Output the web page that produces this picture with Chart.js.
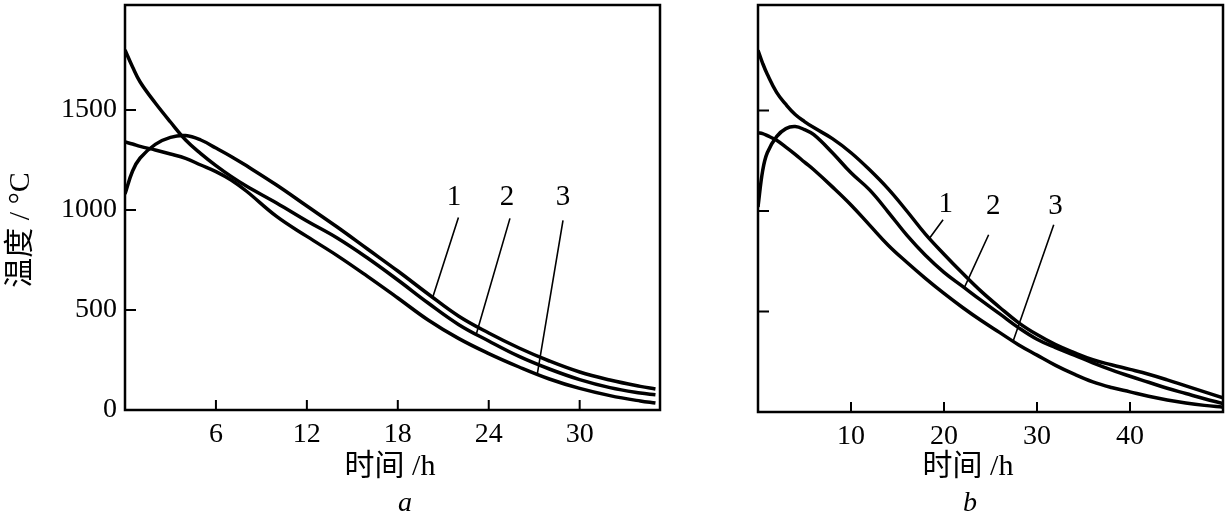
<!DOCTYPE html>
<html>
<head>
<meta charset="utf-8">
<script src="https://cdn.jsdelivr.net/npm/chart.js@4/dist/chart.umd.min.js"></script>
<style>
  body { margin: 0; background: #fff; }
  .box { position: absolute; top: 0; height: 518px; }
</style>
</head>
<body>
<div class="box" style="left:0;width:690px"><canvas id="chartA"></canvas></div>
<div class="box" style="left:690px;width:537px"><canvas id="chartB"></canvas></div>
<script>
// Temperature vs time, two panels (a, b), three curves each

// panel a
const aTime   = [0, 0.5, 1, 2, 3, 4, 5, 6, 7, 8, 10, 12, 14, 16, 18, 20, 22, 24, 26, 28, 30, 32, 34, 35];
const aCurve1 = [1080, 1195, 1260, 1328, 1363, 1372, 1350, 1310, 1268, 1222, 1125, 1020, 915, 805, 695, 580, 470, 385, 310, 245, 190, 150, 118, 105];
const aCurve2 = [1800, 1715, 1640, 1535, 1440, 1350, 1282, 1222, 1168, 1120, 1035, 945, 860, 760, 650, 535, 428, 345, 268, 205, 152, 112, 85, 76];
const aCurve3 = [1340, 1330, 1318, 1300, 1280, 1258, 1225, 1192, 1150, 1095, 968, 868, 772, 668, 560, 450, 358, 282, 215, 155, 108, 72, 45, 35];
const aXTicks = [6, 12, 18, 24, 30];

// panel b
const bTime   = [0, 0.5, 1, 2, 3, 4, 5, 6, 8, 10, 12, 14, 16, 18, 20, 22, 24, 26, 28, 30, 32, 34, 36, 38, 40, 42, 44, 46, 48, 50];
const bCurve1 = [1800, 1735, 1680, 1590, 1530, 1480, 1445, 1415, 1360, 1290, 1205, 1110, 1000, 885, 785, 690, 600, 520, 445, 385, 335, 295, 260, 235, 212, 188, 160, 130, 100, 70];
const bCurve2 = [1020, 1200, 1290, 1370, 1410, 1420, 1405, 1380, 1290, 1190, 1105, 995, 880, 780, 695, 625, 555, 488, 420, 362, 320, 283, 245, 210, 178, 148, 118, 92, 66, 42];
const bCurve3 = [1390, 1385, 1375, 1352, 1318, 1282, 1243, 1205, 1120, 1030, 930, 830, 745, 665, 590, 520, 455, 395, 335, 283, 232, 188, 150, 122, 100, 78, 60, 45, 33, 24];
const bXTicks = [10, 20, 30, 40];

const yTicks = [0, 500, 1000, 1500];

// curve numbers with leader lines, in data units
const aMarks = [
  { text: "1", at: [21.7, 1064], from: [22.0, 963], to: [20.3, 562] },
  { text: "2", at: [25.2, 1064], from: [25.4, 958], to: [23.2, 385] },
  { text: "3", at: [28.9, 1064], from: [28.9, 948], to: [27.2, 178] }
];
const bMarks = [
  { text: "1", at: [20.2, 1031], from: [19.9, 957], to: [18.4, 862] },
  { text: "2", at: [25.3, 1021], from: [24.8, 882], to: [22.2, 620] },
  { text: "3", at: [32.0, 1021], from: [31.8, 932], to: [27.4, 348] }
];

const serif = "'Liberation Serif', 'Noto Sans CJK SC', serif";

function toPoints(xs, ys) {
  return xs.map((x, i) => ({ x: x, y: ys[i] }));
}

// frame, inward ticks, titles and curve numbers
const notes = {
  id: "notes",
  afterDraw(chart, args, opts) {
    const ctx = chart.ctx, a = chart.chartArea, x = chart.scales.x, y = chart.scales.y;
    ctx.save();
    ctx.strokeStyle = "#000";
    ctx.lineWidth = 2.5;
    ctx.strokeRect(a.left, a.top, a.right - a.left, a.bottom - a.top);
    ctx.lineWidth = 2;
    ctx.beginPath();
    opts.xTicks.forEach(v => {
      const px = x.getPixelForValue(v);
      ctx.moveTo(px, a.bottom); ctx.lineTo(px, a.bottom - 10);
    });
    yTicks.forEach(v => {
      const py = y.getPixelForValue(v);
      ctx.moveTo(a.left, py); ctx.lineTo(a.left + 11, py);
    });
    ctx.stroke();

    // leader lines
    ctx.lineWidth = 1.6;
    ctx.beginPath();
    opts.marks.forEach(m => {
      ctx.moveTo(x.getPixelForValue(m.from[0]), y.getPixelForValue(m.from[1]));
      ctx.lineTo(x.getPixelForValue(m.to[0]), y.getPixelForValue(m.to[1]));
    });
    ctx.stroke();

    ctx.fillStyle = "#000";
    ctx.textAlign = "center";
    ctx.textBaseline = "middle";
    ctx.font = "29px " + serif;
    opts.marks.forEach(m => {
      ctx.fillText(m.text, x.getPixelForValue(m.at[0]), y.getPixelForValue(m.at[1]));
    });

    // x title and panel letter
    ctx.font = "30px " + serif;
    ctx.fillText("时间 /h", opts.titleX, 467);
    ctx.font = "italic 28px " + serif;
    ctx.fillText(opts.letter, opts.letterX, 504);

    if (opts.yTitle) {
      ctx.translate(21, 230);
      ctx.rotate(-Math.PI / 2);
      ctx.font = "30px " + serif;
      ctx.fillText("温度 / °C", 0, 0);
    }
    ctx.restore();
  }
};

function makeChart(id, time, curves, xMax, xTicks, yWidth, xHeight, pad, showYLabels, noteOpts) {
  return new Chart(document.getElementById(id), {
    type: "line",
    data: {
      datasets: curves.map(c => ({
        data: toPoints(time, c),
        borderColor: "#000",
        borderWidth: 3.5,
        pointRadius: 0,
        tension: 0.4
      }))
    },
    options: {
      responsive: true,
      maintainAspectRatio: false,
      animation: false,
      layout: { padding: pad },
      plugins: { legend: { display: false }, tooltip: { enabled: false }, notes: noteOpts },
      scales: {
        x: {
          type: "linear", min: 0, max: xMax,
          grid: { display: false }, border: { display: false },
          afterBuildTicks: s => { s.ticks = xTicks.map(v => ({ value: v })); },
          afterFit: s => { s.height = xHeight; s.paddingLeft = 0; s.paddingRight = 0; },
          ticks: { color: "#000", padding: 0, maxRotation: 0, font: { family: serif, size: 28 },
                   callback: v => String(v) }
        },
        y: {
          min: 0, max: 2025,
          grid: { display: false }, border: { display: false },
          afterBuildTicks: s => { s.ticks = yTicks.map(v => ({ value: v })); },
          afterFit: s => { s.width = yWidth; s.paddingTop = 0; s.paddingBottom = 0; },
          ticks: { display: showYLabels, color: "#000", padding: 0, font: { family: serif, size: 28 },
                   callback: v => String(v) }
        }
      }
    },
    plugins: [notes]
  });
}

makeChart("chartA", aTime, [aCurve1, aCurve2, aCurve3], 35.3, aXTicks, 125, 108,
  { left: 0, top: 5, right: 30, bottom: 0 }, true,
  { xTicks: aXTicks, marks: aMarks, titleX: 390, letter: "a", letterX: 405, yTitle: true });

makeChart("chartB", bTime, [bCurve1, bCurve2, bCurve3], 50, bXTicks, 68, 106,
  { left: 0, top: 5, right: 4, bottom: 0 }, false,
  { xTicks: bXTicks, marks: bMarks, titleX: 968 - 690, letter: "b", letterX: 970 - 690, yTitle: false });
</script>
</body>
</html>
